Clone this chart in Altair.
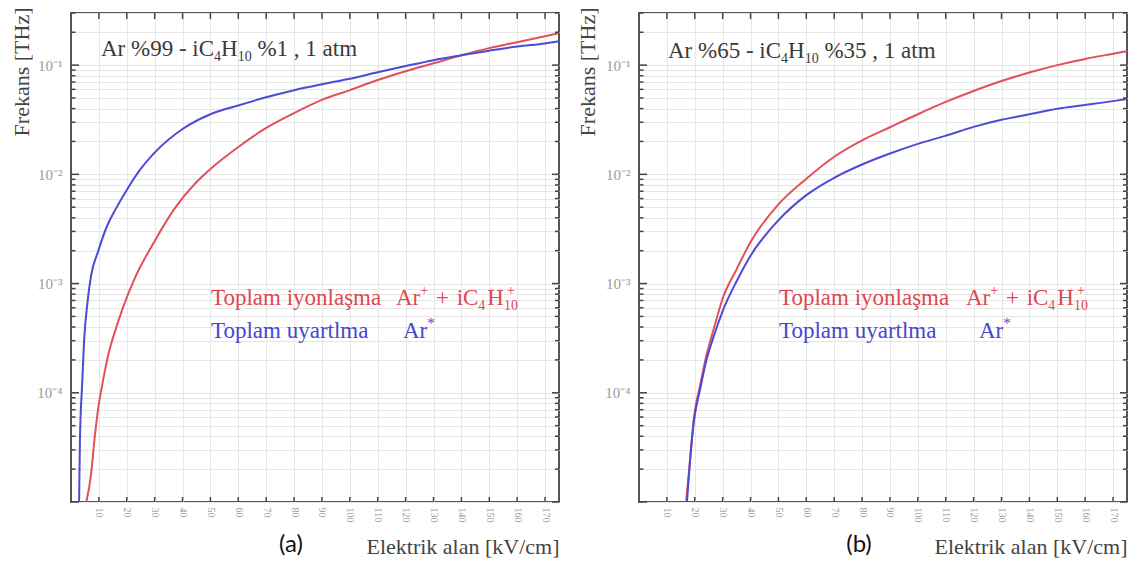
import altair as alt
import pandas as pd

# ---------------- data ----------------
# Panel (a): Ar %99 - iC4H10 %1
a_exc_E = [2.9, 3.2, 4.0, 4.7, 6.0, 7.2, 9.7, 13, 16, 20, 25, 30, 40, 50, 60, 70, 80, 90,
           100, 110, 120, 130, 140, 150, 160, 170, 175]
a_exc_F = [1.0e-5, 3.6e-5, 1.2e-4, 3.0e-4, 7.0e-4, 1.18e-3, 1.96e-3, 3.4e-3, 4.8e-3, 7.2e-3,
           0.0112, 0.0158, 0.026, 0.0355, 0.0427, 0.0507, 0.0589, 0.0668, 0.075, 0.086,
           0.098, 0.111, 0.123, 0.1355, 0.148, 0.158, 0.165]
a_ion_E = [5.5, 7.2, 8.4, 9.8, 11.5, 13.5, 16, 18.5, 23.3, 29.8, 37, 45, 50, 60, 70, 80, 90,
           100, 110, 120, 130, 140, 150, 160, 170, 175]
a_ion_F = [1.0e-5, 1.8e-5, 3.7e-5, 7.3e-5, 1.3e-4, 2.3e-4, 3.8e-4, 5.9e-4, 1.18e-3, 2.4e-3,
           4.8e-3, 8.5e-3, 0.0112, 0.0178, 0.0266, 0.0364, 0.048, 0.059, 0.073, 0.088, 0.104,
           0.123, 0.143, 0.162, 0.184, 0.196]

# Panel (b): Ar %65 - iC4H10 %35
b_exc_E = [17.2, 18, 19.7, 22, 24, 27, 30, 35, 40, 50, 60, 70, 80, 90, 100, 110, 120, 130,
           140, 150, 160, 170, 175]
b_exc_F = [1.0e-5, 1.9e-5, 5.5e-5, 1.1e-4, 1.9e-4, 3.4e-4, 5.6e-4, 1.05e-3, 1.8e-3, 3.8e-3,
           6.45e-3, 9.3e-3, 0.0123, 0.0155, 0.019, 0.0226, 0.0272, 0.0316, 0.0355, 0.0398,
           0.0431, 0.0468, 0.049]
b_ion_E = [16.9, 18, 19.7, 22, 24, 27, 30, 35, 40, 50, 60, 70, 80, 90, 100, 110, 120, 130,
           140, 150, 160, 170, 175]
b_ion_F = [1.0e-5, 2.0e-5, 5.9e-5, 1.2e-4, 2.1e-4, 4.0e-4, 7.3e-4, 1.35e-3, 2.4e-3, 5.3e-3,
           9.1e-3, 0.0145, 0.0205, 0.027, 0.0355, 0.046, 0.058, 0.0715, 0.0855, 0.100, 0.114,
           0.127, 0.134]

X_TICKS = [10, 20, 30, 40, 50, 60, 70, 80, 90, 100, 110, 120, 130, 140, 150, 160, 170]
Y_MAJOR = [1e-5, 1e-4, 1e-3, 1e-2, 1e-1]
Y_MINOR = [2e-5, 3e-5, 4e-5, 5e-5, 6e-5, 7e-5, 8e-5, 9e-5,
           2e-4, 3e-4, 4e-4, 5e-4, 6e-4, 7e-4, 8e-4, 9e-4,
           2e-3, 3e-3, 4e-3, 5e-3, 6e-3, 7e-3, 8e-3, 9e-3,
           0.02, 0.03, 0.04, 0.05, 0.06, 0.07, 0.08, 0.09, 0.2, 0.3]

# ---------------- style ----------------
W, H = 488, 489
SERIF = "Liberation Serif"
RED = "#e2505a"
BLUE = "#4b4bd6"
RED_T = "#e0474f"
BLUE_T = "#4646d2"
GRID = "#e6e6e6"
DARK = "#3a3a3a"
FRAME = "#555555"

METRICS = {'A': 722, 'r': 333, ' ': 250, '%': 833, '9': 500, '6': 500, '5': 500, '3': 500,
           '1': 500, '0': 500, '4': 500, '-': 333, 'i': 278, 'C': 667, 'H': 722, ',': 250,
           'a': 444, 't': 278, 'm': 778, 'T': 611, 'o': 500, 'p': 500, 'l': 278, 'y': 500,
           'n': 500, 'ş': 389, 'u': 500, '+': 564, '*': 500}

ONE = pd.DataFrame({"k": [0]})


def tw(s, size):
    return sum(METRICS.get(c, 500) for c in s) * size / 1000.0


def rich(pieces, x0, y0, color):
    """pieces: (text, size, rise, advance, dx)"""
    out = []
    x = x0
    for txt, size, rise, adv, dx in pieces:
        lead = len(txt) - len(txt.lstrip(" "))
        trail = len(txt) - len(txt.rstrip(" "))
        core = txt.strip(" ")
        xs = x + lead * tw(" ", size) + dx
        out.append(
            alt.Chart(ONE).mark_text(text=core, font=SERIF, fontSize=size, color=color,
                                     align="left", baseline="alphabetic")
            .encode(x=alt.value(xs), y=alt.value(y0 + rise))
        )
        if adv:
            x = xs + tw(core, size) + trail * tw(" ", size)
    return out


LABEL_EXPR = ("datum.value == 0.1 ? '10⁻¹' : datum.value == 0.01 ? '10⁻²' : "
              "datum.value == 0.001 ? '10⁻³' : datum.value == 0.0001 ? '10⁻⁴' : ''")


def panel(exc_E, exc_F, ion_E, ion_F, conc_ar, conc_iso, title_x, title_y, ytitle_x, tag,
          leg2_x, leg3_x):
    df = pd.concat([
        pd.DataFrame({"E": ion_E, "F": ion_F, "s": "ion"}),
        pd.DataFrame({"E": exc_E, "F": exc_F, "s": "exc"}),
    ])
    xs = alt.Scale(domain=[0, 175], nice=False, zero=False)
    ys = alt.Scale(type="log", domain=[1e-5, 0.3], nice=False)
    xaxis = alt.Axis(
        values=X_TICKS, grid=True, gridColor=GRID, gridWidth=1, ticks=False, domain=False,
        labelAngle=90, labelAlign="left", labelBaseline="middle", labelPadding=5,
        labelFont=SERIF, labelFontSize=10, labelColor="#9a9a9a", labelFlush=False,
        labelOverlap=False, labelSeparation=0,
        title="Elektrik alan [kV/cm]", titleFont=SERIF, titleFontSize=22,
        titleFontWeight="normal", titleColor="#444444", titleX=W, titleY=51,
        titleAlign="right", titleBaseline="alphabetic")
    yaxis = alt.Axis(
        values=Y_MAJOR + Y_MINOR, labelExpr=LABEL_EXPR, grid=True, gridColor=GRID,
        gridWidth=1, ticks=False, domain=False, labelPadding=9, labelFont=SERIF,
        labelFontSize=15, labelColor="#9a9a9a", labelOverlap=False, labelFlush=False,
        title="Frekans [THz]", titleFont=SERIF, titleFontSize=22, titleFontWeight="normal",
        titleColor="#444444", titleAngle=270, titleX=ytitle_x, titleY=-6,
        titleAlign="right", titleBaseline="bottom")

    lines = alt.Chart(df).mark_line(strokeWidth=2, clip=True, interpolate="monotone").encode(
        x=alt.X("E:Q", scale=xs, axis=xaxis),
        y=alt.Y("F:Q", scale=ys, axis=yaxis),
        color=alt.Color("s:N", scale=alt.Scale(domain=["ion", "exc"], range=[RED, BLUE]),
                        legend=None),
        detail="s:N",
    )

    # tick tables use the same field names and axes so the axes merge cleanly
    ymaj = pd.DataFrame({"F": Y_MAJOR})
    ymin = pd.DataFrame({"F": Y_MINOR})
    xt = pd.DataFrame({"E": X_TICKS})

    def yrule(d, a, b):
        return alt.Chart(d).mark_rule(color="#444", strokeWidth=1.5).encode(
            y=alt.Y("F:Q", scale=ys, axis=yaxis), x=alt.value(a), x2=alt.value(b))

    def xrule(a, b):
        return alt.Chart(xt).mark_rule(color="#444", strokeWidth=1.5).encode(
            x=alt.X("E:Q", scale=xs, axis=xaxis), y=alt.value(a), y2=alt.value(b))

    ticks = [
        yrule(ymaj, 0, 8), yrule(ymin, 0, 4.5), yrule(ymaj, W, W - 7), yrule(ymin, W, W - 4),
        xrule(0, 6), xrule(H, H - 5),
    ]

    title = rich([
        ("Ar %" + conc_ar + " - iC", 23, 0, True, 0),
        ("4", 14, 5, True, 0),
        ("H", 23, 0, True, 0),
        ("10", 14, 5, True, 0),
        (" %" + conc_iso + " , 1 atm", 23, 0, True, 0),
    ], title_x, title_y, DARK)

    leg = []
    leg += rich([("Toplam iyonlaşma", 23, 0, True, 0)], 140, 292, RED_T)
    leg += rich([
        ("Ar", 23, 0, True, 0),
        ("+", 14, -10, True, 0),
        (" +", 23, 0, True, 2),
        (" iC", 23, 0, True, 2),
        ("4", 14, 5, True, 0),
        ("H", 23, 0, True, 2),
        ("+", 14, -10, False, 3),
        ("10", 14, 5, True, 0),
    ], leg2_x, 292, RED_T)
    leg += rich([("Toplam uyartlma", 23, 0, True, 0)], 140, 325, BLUE_T)
    leg += rich([("Ar", 23, 0, True, 0), ("*", 15, -10, True, 0)], leg3_x, 325, BLUE_T)

    tag_txt = alt.Chart(ONE).mark_text(text=tag, font="Lato", fontSize=24, color="#111",
                                       align="center", baseline="alphabetic").encode(
        x=alt.value(220), y=alt.value(H + 50))

    return alt.layer(lines, *ticks, *title, *leg, tag_txt).properties(width=W, height=H)


pa = panel(a_exc_E, a_exc_F, a_ion_E, a_ion_F, "99", "1", 30, 43, -38, "(a)", 325, 332)
pb = panel(b_exc_E, b_exc_F, b_ion_E, b_ion_F, "65", "35", 29, 45, -40, "(b)", 327, 340)

chart = alt.hconcat(pa, pb, spacing=14).properties(
    padding={"left": 9, "top": 5, "right": 5, "bottom": 5}
).configure_view(stroke=FRAME, strokeWidth=2).configure_axis(labelOverlap=False)

chart.save("out.html", embed_options={"renderer": "svg", "actions": False})
